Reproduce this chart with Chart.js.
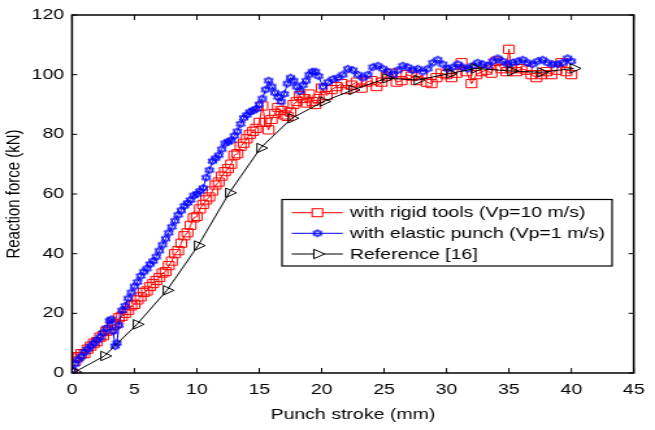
<!DOCTYPE html>
<html><head><meta charset="utf-8">
<script src="https://cdn.jsdelivr.net/npm/chart.js@4.4.1/dist/chart.umd.min.js"></script>
<style>
html,body{margin:0;padding:0;background:#fff;overflow:hidden}
#wrap{width:504px;height:430px;transform:scaleX(1.2996);transform-origin:0 0}
</style></head><body><div id="wrap"><canvas id="c" width="504" height="430"></canvas></div>
<script>
// ---- data ----
const xTicks = [0,5,10,15,20,25,30,35,40,45];
const yTicks = [0,20,40,60,80,100,120];
const seriesNames = ['with rigid tools (Vp=10 m/s)','with elastic punch (Vp=1 m/s)','Reference [16]'];

const xRigid = [0,0.1,0.25,0.5,0.75,1.0,1.25,1.5,1.75,2.0,2.25,2.5,2.75,3.0,3.25,3.5,3.75,4.0,4.25,4.5,4.75,5.0,5.25,5.5,5.75,6.0,6.25,6.5,6.75,7.0,7.25,7.5,7.75,8.0,8.25,8.5,8.75,9.0,9.25,9.5,9.75,10.0,10.25,10.5,10.75,11.0,11.25,11.5,11.75,12.0,12.25,12.5,12.75,13.0,13.25,13.5,13.75,14.0,14.25,14.5,14.75,15.0,15.25,15.5,15.75,16.0,16.25,16.5,16.75,17.0,17.25,17.5,17.75,18.0,18.25,18.5,18.75,19.0,19.25,19.5,19.75,
  20.0,20.4,20.8,21.2,21.6,22.0,22.4,22.8,23.2,23.6,24.0,24.4,24.8,25.2,25.6,26.0,26.4,26.8,27.2,27.6,28.0,28.4,28.8,29.2,29.6,30.0,30.4,30.8,31.2,31.6,32.0,32.4,32.8,33.2,33.6,34.0,34.4,34.8,35.0,35.2,35.6,36.0,36.4,36.8,37.2,37.6,38.0,38.4,38.8,39.2,39.6,40.0];
const yRigid = [0,5,4,5.5,6.5,6.5,8,9,10,10.5,12,12.5,14,14.5,16,16.5,18.5,19,20,21,22.5,23,24.5,25.5,27,27.5,29,30,31,32,33.5,34,36,37.5,40,41,43.5,46,47,49.5,52,52.5,55,56.5,58,59,61,63,64,66,67.5,68.5,70,73,73.5,76,77,78.5,80,81,82,84,89.5,84,81.5,85,87,89,88,86.5,86,87.5,90,91,93,92,90.5,93.5,91,90,92,
  95.5,93,95,96,97,95,96.5,97.5,95.5,97.5,98,96,97.5,99.5,100.5,97.5,98,100,99.5,98,100,97.5,97,99,100.5,100,99,100.5,104,101,97,100,101,101.5,100.5,104.5,102,101,108.5,102,101,102,101.5,100,99,100,101,100,101.5,104,101,100];

const xElastic = [0,0.25,0.5,0.75,1.0,1.25,1.5,1.75,2.0,2.25,2.5,2.75,3.0,3.15,3.3,3.45,3.6,3.75,4.0,4.25,4.5,4.75,5.0,5.25,5.5,5.75,6.0,6.25,6.5,6.75,7.0,7.25,7.5,7.75,8.0,8.25,8.5,8.75,9.0,9.25,9.5,9.75,10.0,10.25,10.5,10.75,11.0,11.25,11.5,11.75,12.0,12.25,12.5,12.75,13.0,13.25,13.5,13.75,14.0,14.25,14.5,14.75,15.0,15.25,15.5,15.75,16.0,16.25,16.5,16.75,17.0,17.25,17.5,17.75,18.0,18.25,18.5,18.75,19.0,19.25,19.5,19.75,
  20.1,20.5,20.9,21.3,21.7,22.1,22.5,22.9,23.3,23.7,24.1,24.5,24.9,25.3,25.7,26.1,26.5,26.9,27.3,27.7,28.1,28.5,28.9,29.3,29.7,30.1,30.5,30.9,31.3,31.7,32.1,32.5,32.9,33.3,33.7,34.1,34.5,34.9,35.3,35.7,36.1,36.5,36.9,37.3,37.7,38.1,38.5,38.9,39.3,39.7,40.0];
const yElastic = [1,3,4.5,5.5,7,8,9,10,11,12,13.5,15,17.5,18,14,9,10,16,21,22.5,25,27,29,30.5,32.5,34,35,36.5,37.5,39,41,43,45,47,49,51,53,54.5,56,57,58,59.5,60,61,62,65.5,68,71,72,73,75,77,77.5,78,79.5,81,83.5,85.5,86.5,87.5,88,88.5,90,92,95,98,96,94,92.5,91,93.5,97,99,98,96,94.5,96.5,98,100,101,101,99.5,
  96,97.5,98.5,99,100,102,101.5,100,99,100,102.5,103,102,101,100,101.5,103,102.5,101.5,102,101,102,104,105,103.5,102,102.5,103.5,102.5,102,103,104,103.5,103,104.5,105.5,104.5,103.5,104,104.5,105,104,103.5,104.5,105,104,103.5,103.5,104,105.5,104.5];

const xRef = [0.2,2.6,5.2,7.6,10.1,12.6,15.1,17.6,20.15,22.5,25.2,27.7,30.3,32.3,35.2,37.6,40.2];
const yRef = [0.3,5.7,16.3,27.7,42.7,60.4,75.4,85.4,91,94.9,98.8,98.2,100.4,102.1,101.2,100.8,102.1];

// ---- styles ----
const FONT = '"Liberation Sans", Arial, sans-serif';
function hexagram(color){
  const c=document.createElement('canvas'); c.width=9; c.height=10;
  const g=c.getContext('2d'); g.strokeStyle=color; g.lineWidth=1;
  const cx=4.5, cy=5, r=4;
  [-Math.PI/2, Math.PI/2].forEach(a0=>{
    g.beginPath();
    for(let i=0;i<3;i++){const a=a0+i*2*Math.PI/3; const px=cx+r*Math.cos(a), py=cy+r*Math.sin(a); if(i) g.lineTo(px,py); else g.moveTo(px,py);}
    g.closePath(); g.stroke();
  });
  return c;
}
const star = hexagram('#0000ff');
const toPts = (xs,ys)=>xs.map((x,i)=>({x, y:ys[i]}));

const frame = {
  id:'frame',
  afterDatasetsDraw(chart){
    const {ctx, chartArea:{left,right,top,bottom}, scales:{x,y}} = chart;
    ctx.save();
    ctx.strokeStyle='#000';
    ctx.lineWidth=1;
    ctx.beginPath();
    x.ticks.forEach(t=>{const px=x.getPixelForValue(t.value); ctx.moveTo(px,bottom); ctx.lineTo(px,bottom-5); ctx.moveTo(px,top); ctx.lineTo(px,top+5);});
    y.ticks.forEach(t=>{const py=y.getPixelForValue(t.value); ctx.moveTo(left,py); ctx.lineTo(left+4,py); ctx.moveTo(right,py); ctx.lineTo(right-4,py);});
    ctx.stroke();
    ctx.lineWidth=1.5;
    ctx.strokeRect(left,top,right-left,bottom-top);
    ctx.restore();
  }
};

const legendBox = {
  id:'legendBox',
  afterDraw(chart){
    const ctx=chart.ctx;
    const bx=217, by=199.5, bw=254, bh=66.5;
    ctx.save();
    ctx.fillStyle='#fff'; ctx.fillRect(bx,by,bw,bh);
    ctx.strokeStyle='#000'; ctx.lineWidth=1.2; ctx.strokeRect(bx,by,bw,bh);
    const rows=[212.7,233.3,254];
    const cols=['#ff0000','#0000ff','#000000'];
    rows.forEach((ry,i)=>{
      ctx.strokeStyle=cols[i]; ctx.lineWidth=1;
      ctx.beginPath(); ctx.moveTo(224.4,ry); ctx.lineTo(263.8,ry); ctx.stroke();
      const mx=244.2;
      if(i===0){ ctx.fillStyle='#fff'; ctx.fillRect(mx-4,ry-4,8,8); ctx.strokeRect(mx-4,ry-4,8,8); }
      else if(i===1){ ctx.drawImage(star, mx-4.5, ry-5); }
      else { ctx.fillStyle='#fff'; ctx.beginPath(); ctx.moveTo(mx+5.5,ry); ctx.lineTo(mx-2.75,ry-4.76); ctx.lineTo(mx-2.75,ry+4.76); ctx.closePath(); ctx.fill(); ctx.stroke(); }
      ctx.fillStyle='#000'; ctx.font='15px '+FONT; ctx.textBaseline='middle'; ctx.textAlign='left';
      ctx.fillText(seriesNames[i], 269.2, ry+0.5);
    });
    ctx.restore();
  }
};

new Chart(document.getElementById('c'), {
  type:'line',
  data:{ datasets:[
    { label:seriesNames[0], data:toPts(xRigid,yRigid), borderColor:'#ff0000', borderWidth:1, pointStyle:'rect', pointRadius:5.8, pointBorderColor:'#ff0000', pointBackgroundColor:'rgba(0,0,0,0)', pointBorderWidth:1, tension:0, order:3 },
    { label:seriesNames[1], data:toPts(xElastic,yElastic), borderColor:'#0000ff', borderWidth:1, pointStyle:star, pointRadius:4, tension:0, order:2 },
    { label:seriesNames[2], data:toPts(xRef,yRef), borderColor:'#000000', borderWidth:1, pointStyle:'triangle', rotation:90, pointRadius:5.5, pointBorderColor:'#000', pointBackgroundColor:'rgba(0,0,0,0)', pointBorderWidth:1, tension:0, order:1 }
  ]},
  options:{
    responsive:false, devicePixelRatio:1, animation:false,
    layout:{ padding:{left:0,right:11,top:13,bottom:0} },
    plugins:{ legend:{display:false}, tooltip:{enabled:false} },
    elements:{ point:{ hoverRadius:0 } },
    scales:{
      x:{ type:'linear', min:0, max:45,
        afterBuildTicks(s){ s.ticks = xTicks.map(v=>({value:v})); },
        ticks:{ font:{family:FONT,size:15}, color:'#000', padding:8, maxRotation:0, autoSkip:false },
        grid:{display:false, drawTicks:false}, border:{display:false},
        title:{display:true, text:'Punch stroke (mm)', color:'#000', font:{family:FONT,size:15}, padding:{top:2,bottom:6}},
        afterFit(s){ s.height=57; } },
      y:{ type:'linear', min:0, max:120,
        afterBuildTicks(s){ s.ticks = yTicks.map(v=>({value:v})); },
        ticks:{ font:{family:FONT,size:15}, color:'#000', padding:6 },
        grid:{display:false, drawTicks:false}, border:{display:false},
        title:{display:true, text:'Reaction force (kN)', color:'#000', font:{family:FONT,size:15}, padding:{top:2,bottom:2}},
        afterFit(s){ s.width=55.4; } }
    }
  },
  plugins:[frame, legendBox]
});
</script></body></html>
